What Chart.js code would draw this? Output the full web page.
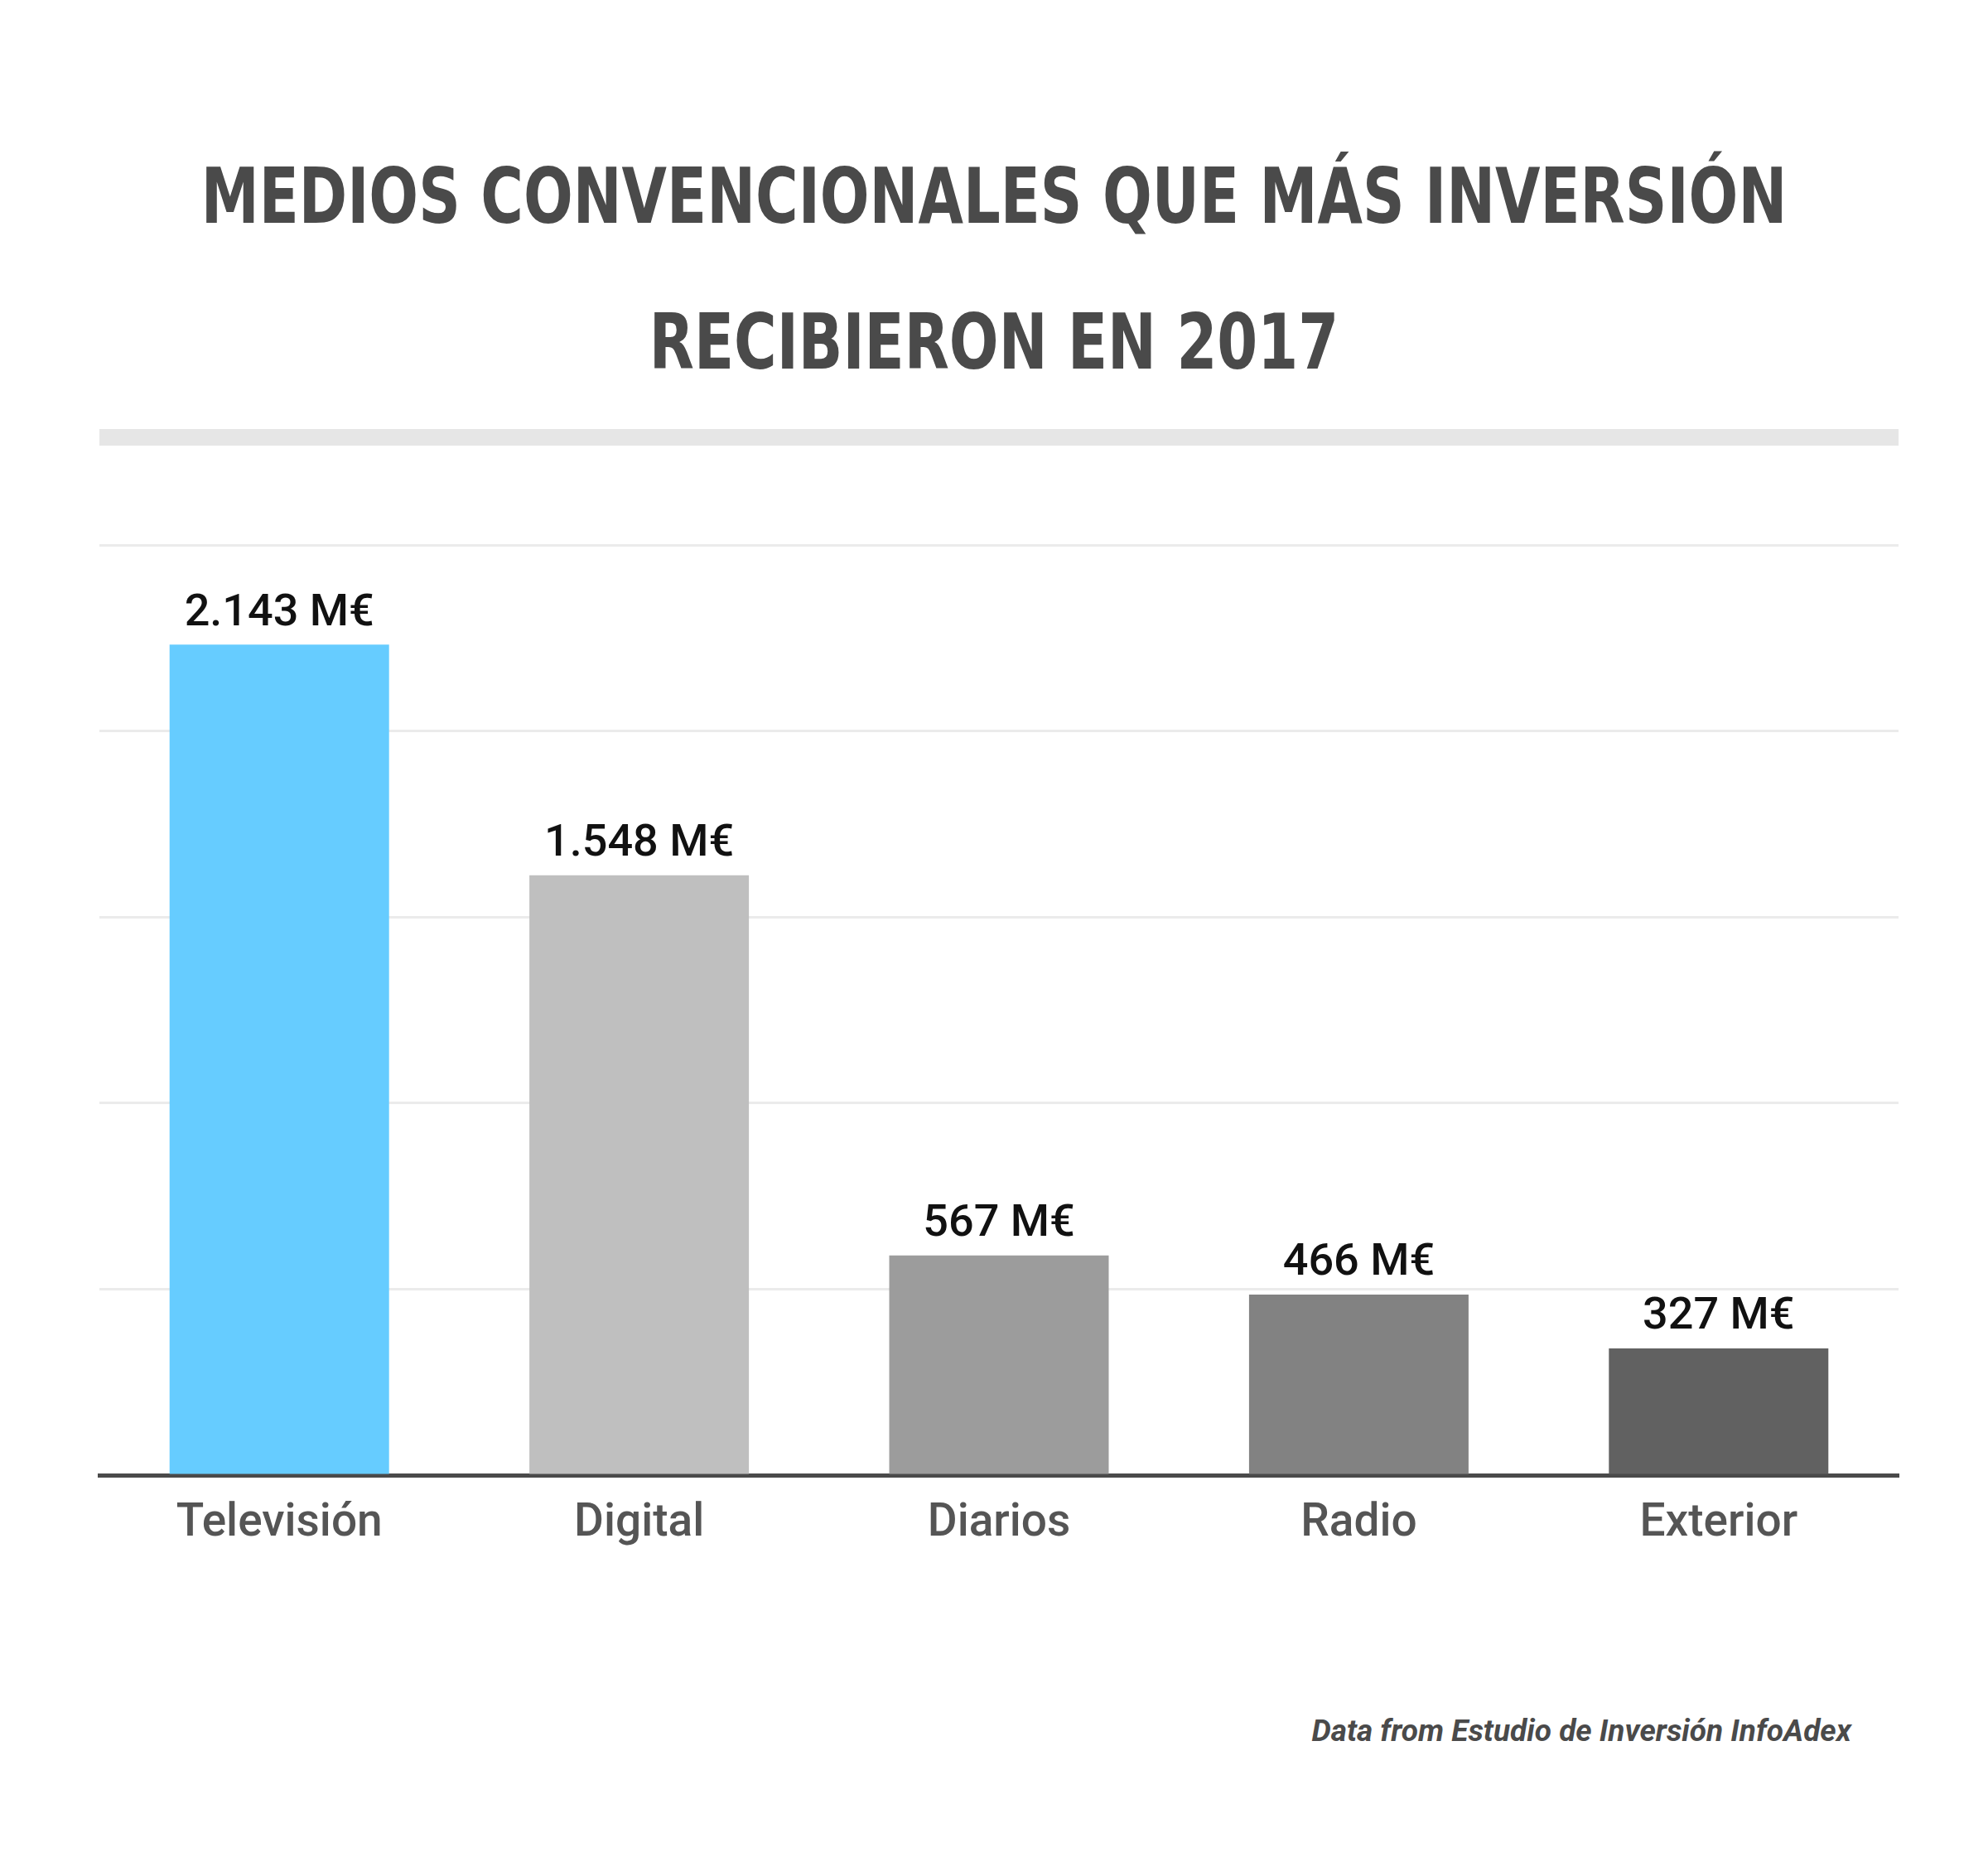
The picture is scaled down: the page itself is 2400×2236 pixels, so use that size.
<!DOCTYPE html>
<html><head><meta charset="utf-8">
<script src="https://cdn.jsdelivr.net/npm/chart.js@4"></script>
<style>
body{margin:0;background:#fff;width:2400px;height:2236px;position:relative;overflow:hidden}
#title{position:absolute;left:0;width:2400px;top:150px;text-align:center;font-family:"DejaVu Sans Condensed","DejaVu Sans";font-weight:bold;font-stretch:condensed;font-size:92px;line-height:176px;color:#4a4a4a;transform:scaleX(0.85)}
#rule{position:absolute;left:120px;width:2172px;top:518px;height:20px;background:#e6e6e6}
#src{position:absolute;right:165px;top:2068px;font-family:Roboto;font-style:italic;font-weight:bold;font-size:37px;color:#4a4a4a}
canvas{position:absolute;left:0;top:0}
</style></head><body>
<div id="title">MEDIOS CONVENCIONALES QUE MÁS INVERSIÓN<br>RECIBIERON EN 2017</div>
<div id="rule"></div>
<div id="src">Data from Estudio de Inversión InfoAdex</div>
<div style="position:absolute;left:0;top:0;width:2400px;height:2236px"><canvas id="c"></canvas></div>
<script>
const categories=["Televisión","Digital","Diarios","Radio","Exterior"];
const values=[2143,1548,567,466,327];
const valueLabels=["2.143 M€","1.548 M€","567 M€","466 M€","327 M€"];
const colors=["#66ccff","#bfbfbf","#9c9c9c","#828282","#616161"];
const labelPlugin={id:"vl",afterDatasetsDraw(ch){const ctx=ch.ctx;const m=ch.getDatasetMeta(0);ctx.save();ctx.font="500 54px Roboto";ctx.fillStyle="#111";ctx.textAlign="center";ctx.textBaseline="bottom";m.data.forEach((b,i)=>ctx.fillText(valueLabels[i],b.x,b.y-10));ctx.restore();}};
new Chart(document.getElementById("c"),{type:"bar",data:{labels:categories,datasets:[{data:values,backgroundColor:colors,categoryPercentage:1,barPercentage:0.61}]},
options:{responsive:true,maintainAspectRatio:false,animation:false,devicePixelRatio:1,
layout:{padding:{left:120,right:108,top:658,bottom:345}},
plugins:{legend:{display:false},tooltip:{enabled:false}},
scales:{x:{grid:{display:false},border:{color:"#4a4a4a",width:5},ticks:{color:"#555",font:{family:"Roboto",size:55,weight:500},padding:18}},
y:{min:0,max:2400,ticks:{display:false,stepSize:500},border:{display:false},grid:{color:"#ebebeb",lineWidth:3,drawTicks:false}}}},
plugins:[labelPlugin]});
</script></body></html>
